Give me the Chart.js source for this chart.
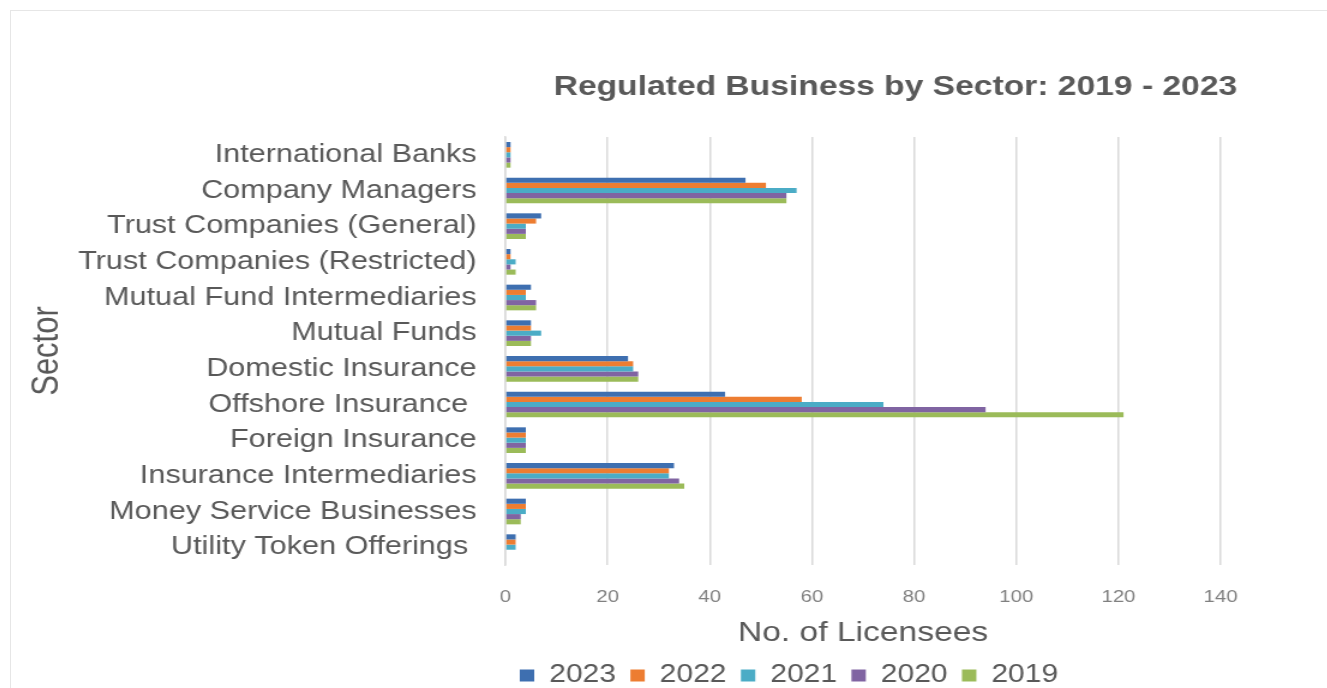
<!DOCTYPE html>
<html>
<head>
<meta charset="utf-8">
<script src="https://cdn.jsdelivr.net/npm/chart.js@4.4.1/dist/chart.umd.min.js"></script>
<style>
html, body { margin: 0; padding: 0; background: #fff; overflow: hidden; }
#frame { position: absolute; left: 10px; top: 10px; width: 1317px; height: 678px; border-top: 1px solid #e6e6e6; border-left: 1px solid #e6e6e6; }
/* the chart is drawn a bit narrower and stretched sideways, so the lettering comes out wide */
#chart { position: absolute; left: 0; top: 0; transform: scaleX(1.2); transform-origin: 0 0; }
</style>
</head>
<body>
<div id="frame"><canvas id="chart" width="1098" height="687"></canvas></div>
<script>
// sectors, top to bottom
const sectors = [
	"International Banks",
	"Company Managers",
	"Trust Companies (General)",
	"Trust Companies (Restricted)",
	"Mutual Fund Intermediaries",
	"Mutual Funds",
	"Domestic Insurance",
	"Offshore Insurance ",
	"Foreign Insurance",
	"Insurance Intermediaries",
	"Money Service Businesses",
	"Utility Token Offerings "
];
const years = ["2023", "2022", "2021", "2020", "2019"];

// number of licensees per sector
const lic2023 = [1, 47, 7, 1, 5, 5, 24, 43, 4, 33, 4, 2];
const lic2022 = [1, 51, 6, 1, 4, 5, 25, 58, 4, 32, 4, 2];
const lic2021 = [1, 57, 4, 2, 4, 7, 25, 74, 4, 32, 4, 2];
const lic2020 = [1, 55, 4, 1, 6, 5, 26, 94, 4, 34, 3, 0];
const lic2019 = [1, 55, 4, 2, 6, 5, 26, 121, 4, 35, 3, 0];

const xTicks = [0, 20, 40, 60, 80, 100, 120, 140];

const colors = ["#3e6fb0", "#ed7d31", "#4bacc6", "#8064a2", "#9bbb59"];
const textColor = "#595959";
const fontFamily = "'Liberation Sans', Arial, sans-serif";

const series = [lic2023, lic2022, lic2021, lic2020, lic2019];
const datasets = years.map((year, i) => ({
	label: year,
	data: series[i],
	backgroundColor: colors[i],
	borderWidth: 0,
	barPercentage: 1,
	categoryPercentage: 0.72
}));

// chart heading, placed by hand over the plot
const headingPlugin = {
	id: "heading",
	afterDraw(chart) {
		const ctx = chart.ctx;
		ctx.save();
		ctx.font = "bold 28px " + fontFamily;
		ctx.fillStyle = textColor;
		ctx.textAlign = "center";
		ctx.textBaseline = "middle";
		ctx.fillText("Regulated Business by Sector: 2019 - 2023", 737, 76);
		ctx.restore();
	}
};

const chart = new Chart(document.getElementById("chart"), {
	type: "bar",
	data: {
		labels: sectors,
		datasets: datasets
	},
	plugins: [headingPlugin],
	options: {
		indexAxis: "y",
		responsive: false,
		animation: false,
		devicePixelRatio: 1,
		layout: {
			padding: { top: 126, right: 90, bottom: 0, left: 0 }
		},
		plugins: {
			title: { display: false },
			tooltip: { enabled: false },
			legend: {
				position: "bottom",
				align: "start",
				fullSize: false,
				labels: {
					boxWidth: 12,
					boxHeight: 12,
					padding: 12,
					color: textColor,
					font: { family: fontFamily, size: 25 }
				}
			}
		},
		scales: {
			x: {
				min: 0,
				max: 140,
				afterBuildTicks(scale) {
					scale.ticks = xTicks.map(v => ({ value: v }));
				},
				afterFit(scale) {
					scale.height = 86;
				},
				grid: {
					color: "#d9d9d9",
					lineWidth: 1.5,
					drawTicks: false
				},
				border: { display: false },
				ticks: {
					padding: 22,
					color: "#808080",
					font: { family: fontFamily, size: 17 }
				},
				title: {
					display: true,
					text: "No. of Licensees",
					color: textColor,
					padding: { top: 0, bottom: 1 },
					font: { family: fontFamily, size: 28 }
				}
			},
			y: {
				afterFit(scale) {
					scale.width = 412;
				},
				grid: { display: false, drawTicks: false },
				border: { display: true, color: "#d9d9d9", width: 1.5 },
				ticks: {
					padding: 24,
					color: textColor,
					autoSkip: false,
					font: { family: fontFamily, size: 25.5 }
				},
				title: {
					display: true,
					text: "Sector",
					color: textColor,
					padding: { top: 12, bottom: 0 },
					font: { family: fontFamily, size: 31 }
				}
			}
		}
	}
});
</script>
</body>
</html>
